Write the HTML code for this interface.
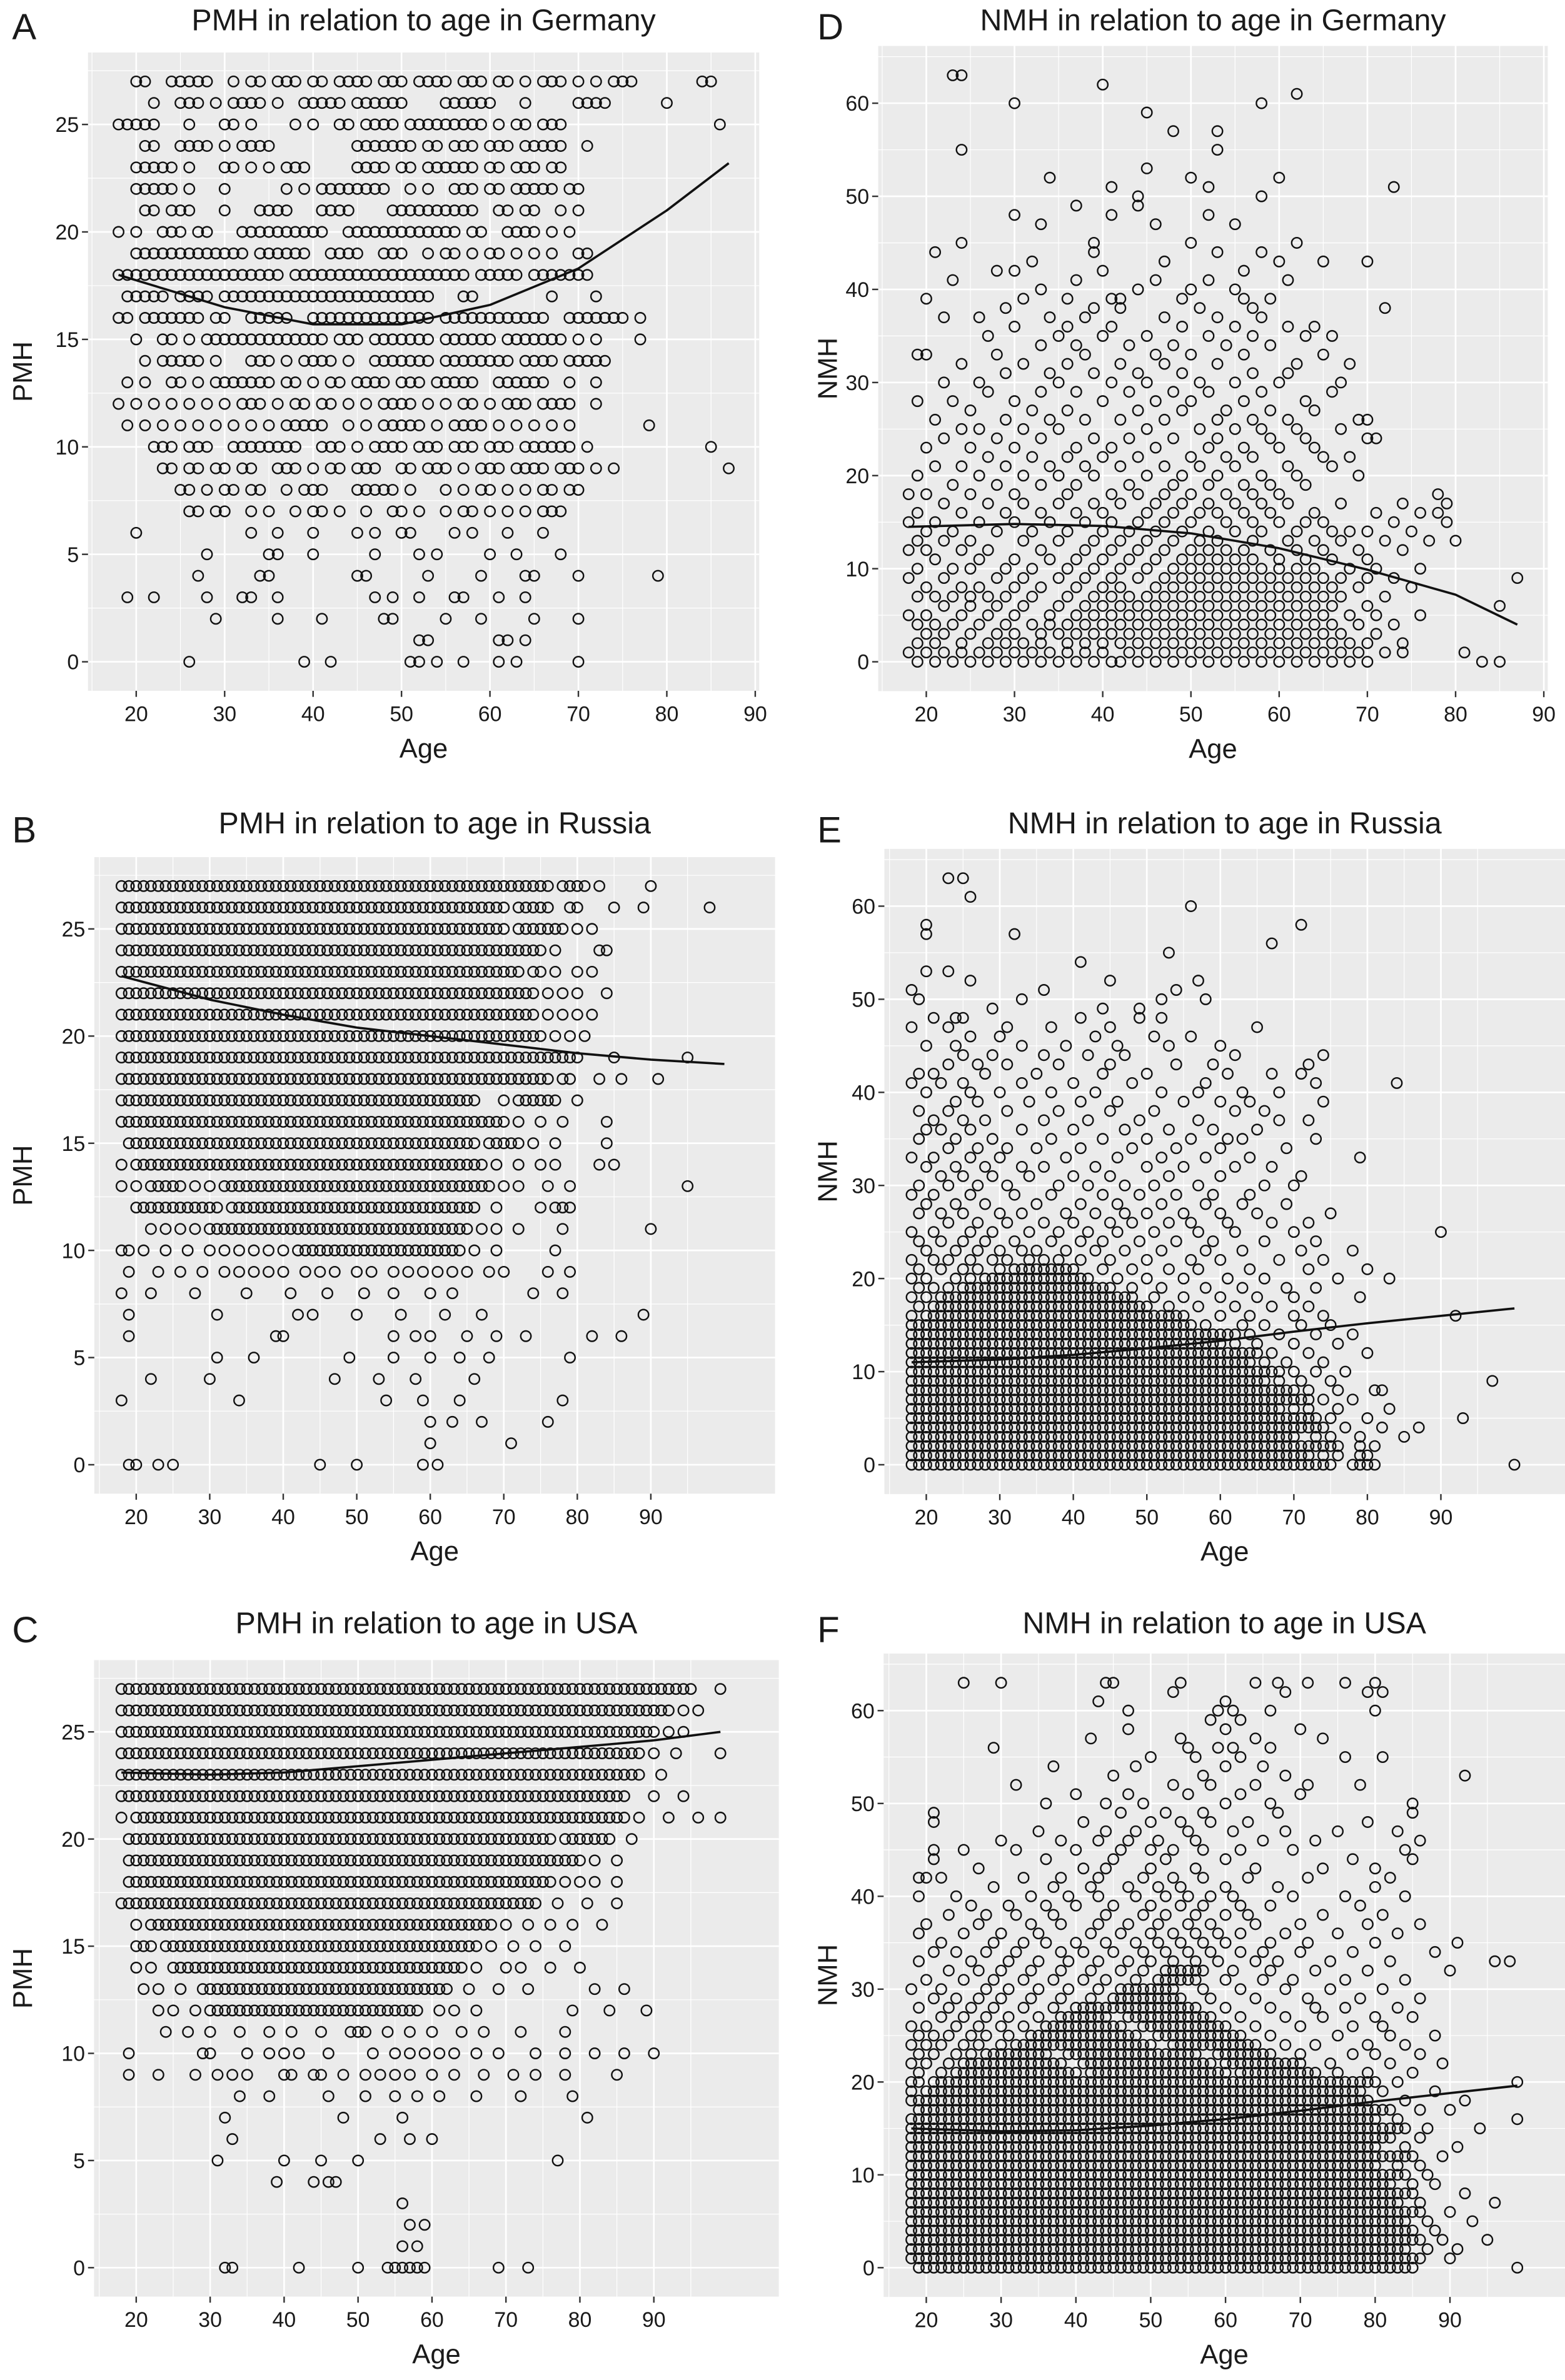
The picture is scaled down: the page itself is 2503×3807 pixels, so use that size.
<!DOCTYPE html>
<html><head><meta charset="utf-8">
<style>
html,body{margin:0;padding:0;background:#fff;}
svg{display:block;}
text{font-family:"Liberation Sans",Arial,sans-serif;fill:#1a1a1a;}
</style></head>
<body>
<svg id="fig" width="2503" height="3807" viewBox="0 0 1034 1568" preserveAspectRatio="none" xmlns="http://www.w3.org/2000/svg"></svg>
<script>
// ===== data: PMH rows (value -> ages, "a-b" = every age in range) =====
const pmhValues = [27,26,25,24,23,22,21,20,19,18,17,16,15,14,13,12,11,10,9,8,7,6,5,4,3,2,1,0];
const agesGermanyPMH = [
"20,21,24-28,31,33,34,36,37,38,40,41,43,44,45,46,48,49,50,52-55,57,58,59,61,62,64,66,67,68,70,72,74,75,76,84,85",
"22,25,26,27,29,31,32,33,34,36,39,40,41,42,43,45,46,47,48,49,50,55,56,57,58,59,60,64,70,71,72,73,80",
"18,19,20,21,22,26,30,31,33,38,40,43,44,46,47,48,49,51,52-57,58,59,61,63,64,66,67,68,86",
"21,22,25,26,27,28,30,32,33,34,35,45,46,47,48,49,50,51,53,54,56,57,58,60,61,62,64,65,66,67,68,71",
"20,21,22,23,24,26,30,31,33,35,37,38,39,45,46,47,48,50,51,53,54,55,56,57,58,60,61,63,64,65,67,68",
"20,21,22,23,24,26,30,37,39,41,42,43,44,45,46,47,48,51,53,56,57,58,60,61,63,64,65,66,67,69,70",
"21,22,24,25,26,30,34,35,36,37,41,42,43,44,49,50,51,52,53,54,55,56,57,58,61,62,64,65,68,70",
"18,20,23,24,25,27,28,32-41,44-56,58,59,62,63,64,65,67,69",
"20-32,34-39,42,43,44,45,48,49,50,53,55,56,58,60,61,63,65,67,70,71",
"18-36,38-57,59-63,65-71",
"19-23,25-28,30-53,57,58,67,72",
"18,19,21-27,29,30,33-37,40-53,55-66,69-75,77",
"20,23,24,26,28-41,43,44,45,47-53,55-60,62-68,70,72,77",
"21,23-27,29,33,34,35,37,39,40,41,42,44,47-53,55-62,64-67,69-73",
"19,21,24,25,27,29-35,37,38,40,42,43,45-48,50,51,52,54-58,61-66,69,72",
"18,20,22,24,26,28,30,32,33,34,36,38,39,41,42,44,46,48,49,50,51,53,55,57,58,60,62,63,64,66,67,68,69,72",
"19,21,23,25,27,29,31,33,35,37,38,39,40,41,44,46,48,49,50,51,52,54,56,57,58,59,61,63,65,67,69,78",
"22,23,24,26,27,28,31-38,41,42,43,45,47,48,49,50,52,53,54,56,57,58,60,61,62,64-69,71,85",
"23,24,26,27,29,30,32,33,36,37,38,40,42,43,45,46,47,50,51,53,54,55,57,59,60,61,63,64,65,66,68,69,70,72,74,87",
"25,26,28,30,31,33,34,37,39,40,41,45-49,51,55,57,59,60,62,64,66,67,69,70",
"26,27,29,30,33,35,38,40,41,43,46,49,50,52,55,57,58,60,62,64,66,67,68",
"20,33,36,40,45,47,50,51,56,58,62,66",
"28,35,36,40,47,52,54,60,63,68",
"27,34,35,45,46,53,59,64,65,70,79",
"19,22,28,32,33,36,47,49,52,56,57,61,64",
"29,36,41,48,49,55,59,65,70",
"52,53,61,62,64",
"26,39,42,51,52,54,57,61,63,70"];
const agesRussiaPMH = [
"18-76,78-81,83,90","18-70,72-76,79,80,85,89,98","18-70,72-78,80,82","18-75,77,83,84",
"18-72,74,75,77,80,82","18-74,76,78,80,84","18-74,76,78,80,82","18-75,77,79,81",
"18-80,85,95","18-76,78,79,83,86,91","18-66,70,72-77,80","18-70,72,75,78,84",
"19-66,68-72,74,77,84","18,20-67,69,72,75,77,83,85","18,20,22-26,28,30,32-68,70,72,76,79,95",
"20-31,33-66,69,75,77-79","22,24,26,28,30-65,67,69,72,78,90","18,19,21,24,27,30,32,34,36,38,40,42-64,66,69,77",
"19,23,26,29,32,34,36,38,40,43,45,47,50,52,55,57,59,61,63,65,68,70,76,79",
"18,22,28,35,41,46,51,55,60,63,74,78","19,31,42,44,50,56,62,67,89","19,39,40,55,58,60,65,69,73,82,86",
"31,36,49,55,60,64,68,79","22,30,47,53,58,66","18,34,54,59,64,78","60,63,67,76","60,71","19,20,23,25,45,50,59,61"];
const agesUSAPMH = [
"18-95,99","18-92,94,96","18-90,92,94","18-88,90,93,99","18-88,91","18-86,90,94",
"18,20-86,88,92,96,99","19-76,78-84,87","19-80,82,85","19-76,78,80,82,85","18-74,77,81,85",
"20,22-68,70,73,76,79,83","20-22,24-66,68,71,74,78","20,22,25-64,66,70,72,76,80",
"21,23,26,29-62,65,69,73,82,86","23,25,28,30-58,61,63,66,79,84,89",
"24,27,30,34,38,41,45,49,50,51,54,57,60,64,67,72,78",
"19,29,30,35,38,40,42,46,52,55,57,59,61,63,66,69,74,78,82,86,90",
"19,23,28,31,33,35,40,41,44,45,48,51,53,55,57,60,63,67,71,74,78,85",
"34,38,46,51,55,58,61,66,72,79","32,48,56,81","33,53,57,60","31,40,45,50,77","39,44,46,47",
"56","57,59","56,58","32,33,42,50,54,55,56,57,58,59,69,73"];

// ===== data: NMH rows =====
const nmhValuesGermany = [0,1,2,3,4,5,6,7,8,9,10,11,12,13,14,15,16,17,18,19,20,21,22,23,24,25,26,27,28,29,30,31,32,33,34,35,36,37,38,39,40,41,42,43,44,45,47,48,49,50,51,52,53,55,57,59,60,61,62,63];
const agesGermanyNMH = [
"19,21,23,25,27,29,31,33,35,37,39,41,42,44,46,48,50,52,54,56,58,60,62,64,66,68,70,83,85",
"18,20,22,24,26,28,30,32,34,36,38,40,43,45,47,49,51,53,55,57,59,61,63,65,67,69,72,74,81",
"19,21,24,27,29,31,33,36,38,40,42,44,46,48,50,52,54,56,58,60,62,64,66,68,70,74",
"20,22,25,28,30,33,35,37,39,41,43,45,47,49,51,53,55,57,59,61,63,65,67,71",
"19,21,23,26,29,32,34,36,38,40,42,44,46,48,50,52,54,56,58,60,62,64,66,69,73",
"18,20,24,27,30,34,37,39,41,43,45,47,49,51,53,55,57,59,61,63,65,68,71,76",
"22,25,28,31,35,38,40,42,44,46,48,50,52,54,56,58,60,62,64,66,70,85",
"19,21,23,25,27,29,32,36,39,41,43,45,47,49,51,53,55,57,59,61,63,65,67,72",
"20,24,26,30,33,37,40,42,46,48,50,52,54,56,58,60,62,64,66,69,75",
"18,22,28,31,35,38,41,44,47,49,51,53,55,57,59,61,63,65,67,70,73,87",
"19,23,25,29,32,36,39,42,45,48,50,52,54,56,58,60,62,64,68,71,76",
"21,26,30,34,37,40,43,46,49,51,53,55,57,60,63,66,70",
"18,20,24,27,33,38,41,44,47,50,52,54,56,59,62,65,69,74",
"19,22,25,31,35,39,42,45,48,51,53,57,61,64,67,72,77,80",
"20,23,28,32,36,40,43,46,49,52,55,58,62,66,68,70,75",
"18,21,26,30,34,38,41,44,47,50,54,57,60,63,65,73,79",
"19,24,29,33,37,40,45,48,51,53,56,59,64,71,76,78",
"22,27,31,35,39,42,46,49,52,55,58,61,67,74,79",
"18,20,25,30,36,41,44,47,50,54,57,60,78",
"23,28,33,37,43,48,52,56,59,63",
"19,26,31,35,39,45,49,53,58,62,69",
"21,24,29,34,38,42,47,51,55,61,66",
"27,32,36,40,44,50,54,57,65,68",
"20,25,30,37,41,46,52,56,60,64",
"22,28,33,39,43,48,53,59,63,70,71",
"24,26,31,35,45,51,55,58,62,67",
"21,29,34,38,42,47,53,57,61,69,70",
"25,32,36,44,49,54,59,64",
"19,23,30,40,46,50,56,63",
"27,33,37,43,48,52,58,66",
"22,26,35,41,45,51,55,60,67",
"29,34,39,44,49,57,61",
"24,31,36,42,47,53,62,68",
"19,20,28,38,46,50,56,65",
"33,37,43,48,54,59",
"27,35,40,45,52,57,63,66",
"30,36,41,49,55,61,64",
"22,26,34,38,47,53,58",
"29,39,42,51,57,72",
"20,31,36,41,42,49,56,59",
"33,44,50,55","23,37,46,52,61","28,30,40,56","32,47,60,65,70","21,39,53,58","24,39,50,62",
"33,46,55","30,41,52","37,44","44,58","41,52,73","34,50,60","45","24,53","48,53","45","30,58","62","40","23,24"];

const nmhValuesRussia = [0,1,2,3,4,5,6,7,8,9,10,11,12,13,14,15,16,17,18,19,20,21,22,23,24,25,26,27,28,29,30,31,32,33,34,35,36,37,38,39,40,41,42,43,44,45,46,47,48,49,50,51,52,53,54,55,56,57,58,60,61,63];
const agesRussiaNMH = [
"18-75,78-81,100","18-72,74,76,79,80","18-76,79,81","18-70,73,75,79,85","18-74,77,82,87",
"18-73,75,80,93","18-68,70,72,76,83","18-72,74,78","18-70,72,76,81,82","18-66,68,71,75,97",
"18-68,70,73,77","18-64,66,69,74","18-65,67,72,80","18-60,62,65,70,76","18-62,64,68,73,78",
"18-56,58,63,66,71,75","18,20-55,60,64,70,74,92","19,21-50,53,57,62,67,72",
"18,20,22-48,51,55,60,65,70,79","19,21,23,25-45,48,52,58,63,69,73",
"18,20,24,26,28-42,46,50,55,61,66,76,83","19,22,25,27,30,32-40,44,48,53,57,64,72,80",
"18,21,23,26,29,31,34,36,38,41,45,50,56,60,68,74","20,24,27,30,33,35,39,43,47,52,58,63,71,78",
"19,22,25,28,32,37,41,44,49,54,59,66,73","18,21,26,29,34,38,42,46,51,57,62,70,90",
"23,27,31,36,40,45,48,53,56,61,67,72","19,22,25,30,33,39,43,47,50,55,60,65,75",
"20,24,28,35,41,46,52,58,63,69","18,21,26,32,37,44,49,54,59,64",
"19,23,27,31,38,42,47,51,57,66,70","22,25,29,34,40,45,53,60,71",
"20,24,28,33,36,43,50,55,62,67","18,21,26,30,39,46,52,58,64,79",
"23,27,31,35,41,48,54,60,69","19,24,29,37,44,50,56,61,63,73",
"20,22,26,33,40,47,53,59,65","21,25,28,36,42,49,57,68,72",
"19,23,31,38,45,51,62,66","24,27,34,41,46,55,60,64,74",
"20,26,30,37,43,52,57,63,68","18,22,25,33,40,48,58,73,84",
"19,21,28,35,44,50,61,67,71","23,27,31,38,45,54,59,72","25,29,36,42,47,62,74",
"20,24,33,39,46,53,60","26,30,43,51,56","18,23,31,37,45,65","21,24,25,41,49,52","29,44,49",
"19,33,52,58","18,36,54","26,45,57","20,23","41","53","67","20,32","20,71","56","26","23,25"];

const nmhValuesUSA = [0,1,2,3,4,5,6,7,8,9,10,11,12,13,14,15,16,17,18,19,20,21,22,23,24,25,26,27,28,29,30,31,32,33,34,35,36,37,38,39,40,41,42,43,44,45,46,47,48,49,50,51,52,53,54,55,56,57,58,59,60,61,62,63];
const agesUSANMH = [
"19-85,99","18-86,90","18-84,87,91","18-86,89,95","18-85,88","18-84,87,93","18-86,90","18-83,86,96",
"18-85,92","18-82,85,88","18-84,87","18-80,83,86","18-85,89","18-80,84,91","18-82,86","18-84,87,94",
"18-80,83,99","19-82,86,90","18-79,84,92","18,20-78,81,88","18,19,21-80,83,99",
"19,22,24-40,42-60,62-72,75,79,85",
"18,20,23,25-38,41-58,60-70,74,82,89",
"19,21,24,26,28-36,39-56,59-66,70,77,80,86",
"18,20,22,25,27,30,32-50,53-64,68,72,79,84",
"19,21,23,26,28,31,34-48,51-62,66,75,82,88",
"18,20,24,27,30,33,36-46,49-60,64,70,77,81",
"22,25,28,31,35,38-44,47-58,62,68,73,80,85",
"19,23,26,29,33,37,40-56,60,66,72,76,83",
"21,24,27,30,34,38,42,45-54,58,64,71,78,86",
"18,22,28,31,35,39,43,46-53,57,62,68,74,81",
"20,25,29,33,37,41,44,48,51-56,60,65,69,76,84",
"23,27,30,34,38,42,46,49,52-57,61,66,72,79,90",
"19,26,31,35,39,43,47,50,53,56,59,64,67,74,82,96,98",
"21,24,28,32,38,41,45,49,52,55,58,62,65,70,77,88",
"22,29,33,36,40,44,48,51,54,57,60,66,71,80,91",
"19,25,30,35,42,46,50,53,56,59,62,68,75,83",
"20,27,34,38,43,47,51,55,58,64,70,79,86",
"23,28,32,37,44,49,52,56,60,63,73,81",
"26,31,36,40,45,50,54,57,62,66,78",
"19,24,34,39,43,48,52,55,58,61,69,76,84",
"29,37,42,47,51,54,60,67,80",
"19,20,22,33,38,43,49,53,57,63,71,82",
"27,41,44,50,56,64,73,80",
"21,36,45,52,60,77,85",
"21,25,32,40,46,50,53,57,62,69,84","30,38,43,47,51,56,65,72,86","35,44,48,55,61,68,75,83","21,41,50,54,58,63,79",
"21,46,52,57,67,85","36,44,49,60,66,85","40,47,55,62,70","32,53,58,64,71,78","45,57,68,92","37,48,60,65",
"50,56,62,76,81","29,55,59,61,66","42,54,64,73","47,60,70","58,62","47,59,61,66,80","43,60","53,68,79,81",
"25,30,44,45,54,64,67,71,76,80"];

// ===== smoothing curves =====
const fitAgesA=[18,30,40,50,60,70,80,87], fitA=[18,16.5,15.7,15.7,16.6,18.3,21,23.2];
const fitAgesB=[18,30,40,50,60,70,80,90,100], fitB=[22.8,21.7,21,20.4,20,19.6,19.2,18.9,18.7];
const fitAgesC=[18,30,40,50,60,70,80,90,99], fitC=[23.1,23.0,23.1,23.4,23.7,24.0,24.3,24.6,25.0];
const fitAgesD=[18,30,40,50,60,70,80,87], fitD=[14.5,14.8,14.6,13.8,12.2,9.9,7.2,4];
const fitAgesE=[18,30,40,50,60,70,80,90,100], fitE=[11,11.3,11.8,12.5,13.3,14.3,15.2,16,16.8];
const fitAgesF=[18,30,40,50,60,70,80,90,99], fitF=[15,14.7,14.8,15.3,16,16.9,17.9,18.8,19.6];

const xTicks=[20,30,40,50,60,70,80,90];
const pmhTicks=[0,5,10,15,20,25];
const nmhTicks=[0,10,20,30,40,50,60];

// ===== rendering =====
const NS="http://www.w3.org/2000/svg";
const svg=document.getElementById('fig');
function mk(tag,attrs,parent){const e=document.createElementNS(NS,tag);for(const k in attrs)e.setAttribute(k,attrs[k]);(parent||svg).appendChild(e);return e;}
function parseAges(s){const out=[];s.split(',').forEach(t=>{if(t.indexOf('-')>0){const [a,b]=t.split('-').map(Number);for(let i=a;i<=b;i++)out.push(i);}else out.push(Number(t));});return out;}

const panels=[
 {id:'a',letter:'A',title:'PMH in relation to age in Germany',yl:'PMH',x20:90,x90:499,y0:436,yRef:25,yRefPx:82,ag:[14.55,90.45],yr:[-1.35,28.35],vals:pmhValues,ages:agesGermanyPMH,yt:pmhTicks,fa:fitAgesA,fv:fitA,ty:11,lx:8},
 {id:'b',letter:'B',title:'PMH in relation to age in Russia',yl:'PMH',x20:90,x90:430,y0:965,yRef:25,yRefPx:612,ag:[14.3,106.9],yr:[-1.35,28.35],vals:pmhValues,ages:agesRussiaPMH,yt:pmhTicks,fa:fitAgesB,fv:fitB,ty:540,lx:8},
 {id:'c',letter:'C',title:'PMH in relation to age in USA',yl:'PMH',x20:90,x90:432,y0:1494,yRef:25,yRefPx:1141,ag:[14.3,106.9],yr:[-1.35,28.35],vals:pmhValues,ages:agesUSAPMH,yt:pmhTicks,fa:fitAgesC,fv:fitC,ty:1067,lx:8},
 {id:'d',letter:'D',title:'NMH in relation to age in Germany',yl:'NMH',x20:612,x90:1020,y0:436,yRef:60,yRefPx:68,ag:[14.55,90.45],yr:[-3.15,66.15],vals:nmhValuesGermany,ages:agesGermanyNMH,yt:nmhTicks,fa:fitAgesD,fv:fitD,ty:11,lx:540},
 {id:'e',letter:'E',title:'NMH in relation to age in Russia',yl:'NMH',x20:612,x90:952,y0:965,yRef:60,yRefPx:597,ag:[14.3,106.9],yr:[-3.15,66.15],vals:nmhValuesRussia,ages:agesRussiaNMH,yt:nmhTicks,fa:fitAgesE,fv:fitE,ty:540,lx:540},
 {id:'f',letter:'F',title:'NMH in relation to age in USA',yl:'NMH',x20:612,x90:958,y0:1494,yRef:60,yRefPx:1127,ag:[14.3,106.9],yr:[-3.15,66.15],vals:nmhValuesUSA,ages:agesUSANMH,yt:nmhTicks,fa:fitAgesF,fv:fitF,ty:1067,lx:540}
];

panels.forEach(p=>{
  const kx=(p.x90-p.x20)/70, ky=(p.y0-p.yRefPx)/p.yRef;
  const X=a=>p.x20+(a-20)*kx, Y=v=>p.y0-v*ky;
  const g=mk('g',{});
  
  
  const L=X(p.ag[0]),R=Math.min(X(p.ag[1]),1034),T=Y(p.yr[1]),B=Y(p.yr[0]);
  const bg=mk('rect',{x:L,y:T,width:R-L,height:B-T,fill:'#ebebeb'},g);
  
  
  const grid=mk('g',{stroke:'#fff'},g);
  
  
  xTicks.forEach(t=>{mk('line',{x1:X(t),x2:X(t),y1:T,y2:B,'stroke-width':1.1},grid);const m=t+5;if(X(m)<R)mk('line',{x1:X(m),x2:X(m),y1:T,y2:B,'stroke-width':0.5},grid);});
  mk('line',{x1:X(15),x2:X(15),y1:T,y2:B,'stroke-width':0.5},grid);
  const step=p.yt[1]-p.yt[0];
  p.yt.forEach(t=>{mk('line',{x1:L,x2:R,y1:Y(t),y2:Y(t),'stroke-width':1.1},grid);const m=t+step/2;if(Y(m)>T)mk('line',{x1:L,x2:R,y1:Y(m),y2:Y(m),'stroke-width':0.5},grid);});
  const pts=mk('g',{fill:'none',stroke:'#111','stroke-width':1.0},g);
  
  
  p.vals.forEach((v,i)=>{parseAges(p.ages[i]).forEach(a=>{
    mk('circle',{cx:X(a),cy:Y(v),r:3.4},pts);
  });});
  let d='';p.fa.forEach((a,i)=>{d+=(i?'L':'M')+X(a).toFixed(1)+','+Y(p.fv[i]).toFixed(1);});
  const fl=mk('path',{d:d,fill:'none',stroke:'#111','stroke-width':1.5,'stroke-linejoin':'round'},g);
  
  
  const ax=mk('g',{},g);
  
  
  xTicks.forEach(t=>{mk('line',{x1:X(t),x2:X(t),y1:B,y2:B+4,stroke:'#333','stroke-width':1},ax);
    const tx=mk('text',{x:X(t),y:B+20,'font-size':14,'text-anchor':'middle'},ax);tx.textContent=t;
    
    });
  const ay=mk('g',{},g);
  
  
  p.yt.forEach(t=>{mk('line',{x1:L-4,x2:L,y1:Y(t),y2:Y(t),stroke:'#333','stroke-width':1},ay);
    const tx=mk('text',{x:L-6,y:Y(t)+5,'font-size':14,'text-anchor':'end'},ay);tx.textContent=t;
    
    });
  const xt=mk('text',{x:(L+R)/2,y:B+44,'font-size':18,'text-anchor':'middle'},g);xt.textContent='Age';
  
  
  const yx=p.lx+13, yy=(T+B)/2;
  const yt=mk('text',{x:yx,y:yy,'font-size':18,'text-anchor':'middle',transform:'rotate(-90 '+yx+' '+yy+')'},g);yt.textContent=p.yl;
  
  
  const tt=mk('text',{x:(L+R)/2,y:p.ty+9,'font-size':20,'text-anchor':'middle'},g);tt.textContent=p.title;
  
  
  const lt=mk('text',{x:p.lx,y:p.ty+15,'font-size':24},g);lt.textContent=p.letter;
  
  
});
</script>
</body></html>
